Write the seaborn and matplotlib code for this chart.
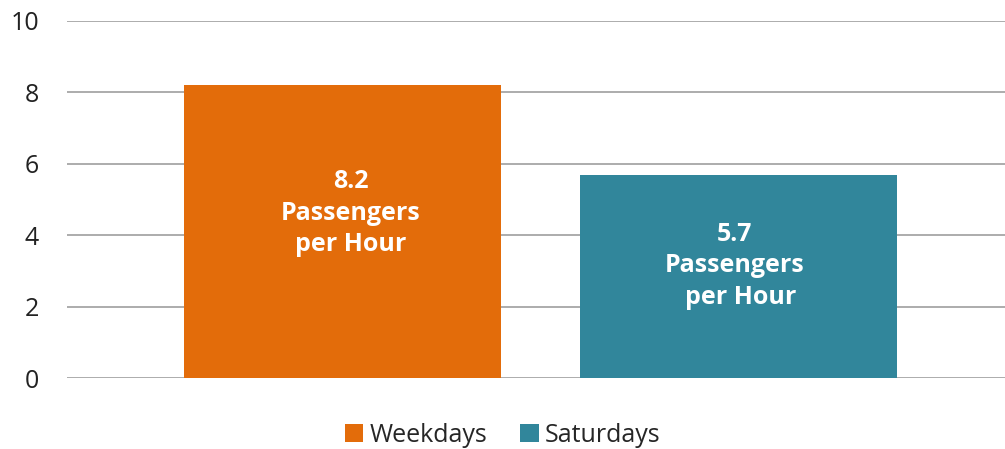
import matplotlib
matplotlib.use("Agg")
import matplotlib.pyplot as plt
import seaborn as sns
import pandas as pd
from matplotlib.patches import Patch

categories = ["Weekdays", "Saturdays"]
values = [8.2, 5.7]
bar_labels = ["8.2\nPassengers\nper Hour", "5.7\nPassengers\n  per Hour"]
yticks = [0, 2, 4, 6, 8, 10]
colors = ["#E36C0A", "#31869B"]

sns.set_theme(style="white")
plt.rcParams['font.family'] = ['Open Sans', 'DejaVu Sans']

df = pd.DataFrame({"cat": categories, "val": values})
fig = plt.figure(figsize=(10.05, 4.49), dpi=100)
ax = fig.add_axes([67/1005, 1 - 378/449, 1 - 67/1005, (378 - 21)/449])
sns.barplot(data=df, x="cat", y="val", hue="cat", palette=colors, dodge=False,
            width=0.8, saturation=1, ax=ax, legend=False, zorder=3,
            edgecolor="none")

ax.set_ylim(0, 10)
ax.set_xlim(-0.696, 1.673)
ax.set_yticks(yticks)
ax.set_yticklabels([str(t) for t in yticks], fontsize=18, color="#222222")
ax.tick_params(axis="y", length=0, pad=20)
ax.set_xticks([])
ax.set_xlabel("")
ax.set_ylabel("")
for t in yticks:
    ax.axhline(t, color="#a6a6a6", lw=1.3, zorder=1)
for s in ax.spines.values():
    s.set_visible(False)

ypos = [4.62, 3.14]
xoff = [0.02, -0.01]
for i, (lab, yp) in enumerate(zip(bar_labels, ypos)):
    ax.text(i + xoff[i], yp, lab, ha="center", va="center", color="white",
            fontsize=18, fontweight="bold", linespacing=1.35, zorder=4)

handles = [Patch(facecolor=c, edgecolor="none") for c in colors]
fig.legend(handles, categories, loc="center", bbox_to_anchor=(0.5, 1 - 435/449),
           ncol=2, frameon=False, fontsize=18, handlelength=0.75, handleheight=0.75,
           handletextpad=0.25, columnspacing=1.3)

fig.savefig("out.png", dpi=100)
